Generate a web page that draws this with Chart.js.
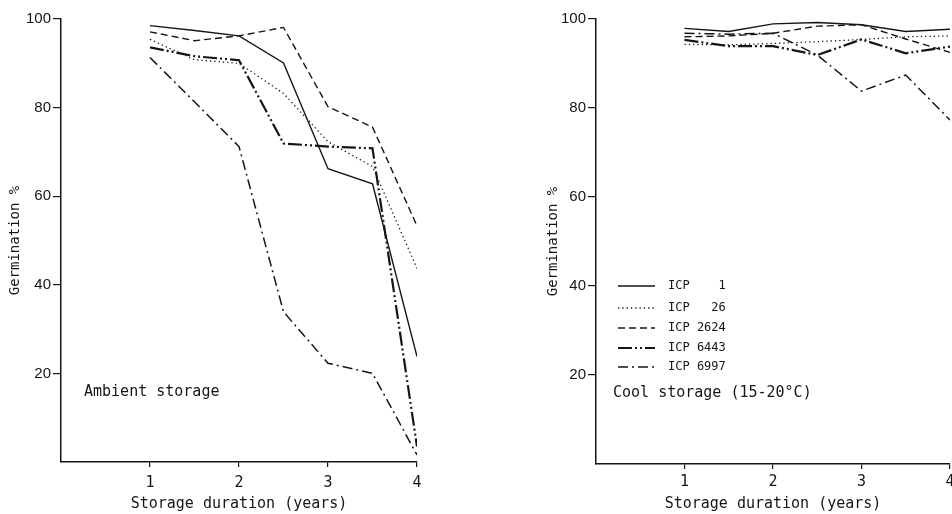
<!DOCTYPE html>
<html><head><meta charset="utf-8">
<script src="https://cdn.jsdelivr.net/npm/chart.js@4.4.0/dist/chart.umd.min.js"></script>
<style>
html,body{margin:0;padding:0;overflow:hidden;background:#fff;width:952px;height:514px;}
canvas{position:absolute;top:0;}
#c1{left:0;}
#c2{left:520px;}
</style></head><body>
<canvas id="c1" width="476" height="514"></canvas>
<canvas id="c2" width="440" height="514"></canvas>
<script>
// ---- data ----
const years = [1, 1.5, 2, 2.5, 3, 3.5, 4];
const xTickValues = [1, 2, 3, 4];
const yTickValues = [20, 40, 60, 80, 100];
const seriesNames = ['ICP    1', 'ICP   26', 'ICP 2624', 'ICP 6443', 'ICP 6997'];

const ambientICP1    = [98.5, 97.4, 96.2, 90.1, 66.2, 62.8, 23.8];
const ambientICP26   = [95.4, 90.8, 90.0, 83.2, 72.3, 66.7, 43.7];
const ambientICP2624 = [97.1, 95.1, 96.2, 98.1, 80.2, 75.6, 53.3];
const ambientICP6443 = [93.6, 91.6, 90.7, 71.9, 71.2, 70.8, 3.5];
const ambientICP6997 = [91.3, 81.3, 71.2, 33.9, 22.3, 20.0, 1.6];

const coolICP1    = [97.9, 97.2, 98.9, 99.2, 98.7, 97.2, 97.7];
const coolICP26   = [94.3, 94.2, 94.5, 94.9, 95.4, 96.0, 96.2];
const coolICP2624 = [96.0, 96.2, 96.8, 98.4, 98.7, 95.5, 92.5];
const coolICP6443 = [95.3, 93.9, 93.9, 91.9, 95.4, 92.3, 93.8];
const coolICP6997 = [96.8, 96.6, 96.8, 91.9, 83.8, 87.4, 77.3];

const ambientTitle = 'Ambient storage';
const coolTitle = 'Cool storage (15-20°C)';
const xTitle = 'Storage duration (years)';
const yTitle = 'Germination %';

// ---- styles ----
const INK = '#151515';
const MONO = "'DejaVu Sans Mono', 'Liberation Mono', monospace";
const SANS = "'Liberation Sans Narrow', 'Liberation Sans', sans-serif";
const lineStyles = [
  {dash: [], width: 1.4},
  {dash: [1.3, 3], width: 1.3},
  {dash: [7, 4], width: 1.4},
  {dash: [14, 3, 2, 3, 2, 3], width: 2.2},
  {dash: [10, 4, 2, 4], width: 1.5}
];

function makeDatasets(arrays) {
  return arrays.map((vals, i) => ({
    label: seriesNames[i],
    data: years.map((x, j) => ({x: x, y: vals[j]})),
    borderColor: INK,
    borderWidth: lineStyles[i].width,
    borderDash: lineStyles[i].dash,
    pointRadius: 0,
    tension: 0,
    fill: false
  }));
}

const notesPlugin = {
  id: 'notes',
  afterDraw(chart, args, opts) {
    const ctx = chart.ctx;
    ctx.save();
    ctx.fillStyle = INK;
    ctx.textBaseline = 'middle';
    (opts.notes || []).forEach(n => {
      ctx.font = n.font;
      ctx.fillText(n.text, n.x, n.y);
    });
    if (opts.legend) {
      const L = opts.legend;
      chart.data.datasets.forEach((ds, i) => {
        const y = L.rows[i];
        ctx.strokeStyle = INK;
        ctx.lineWidth = ds.borderWidth;
        ctx.setLineDash(ds.borderDash);
        ctx.beginPath();
        ctx.moveTo(L.x0, y);
        ctx.lineTo(L.x1, y);
        ctx.stroke();
        ctx.setLineDash([]);
        ctx.font = L.font;
        ctx.fillText(ds.label, L.tx, y);
      });
    }
    ctx.restore();
  }
};

function makeConfig(datasets, yWidth, xHeight, padRight, titlePadY, tickPadX, notes, legend) {
  return {
    type: 'line',
    data: {datasets: datasets},
    plugins: [notesPlugin],
    options: {
      responsive: false,
      animation: false,
      layout: {padding: {top: 19, right: padRight, bottom: 0, left: 0}},
      plugins: {
        legend: {display: false},
        tooltip: {enabled: false},
        notes: {notes: notes, legend: legend}
      },
      scales: {
        x: {
          type: 'linear', min: 0, max: 4,
          afterBuildTicks: s => { s.ticks = xTickValues.map(v => ({value: v})); },
          afterFit: s => { s.height = xHeight; },
          grid: {drawOnChartArea: false, drawTicks: true, tickLength: 5, color: INK, lineWidth: 1.2},
          border: {display: true, color: INK, width: 1.5},
          ticks: {padding: tickPadX, color: INK, maxRotation: 0, autoSkip: false, font: {family: MONO, size: 15}},
          title: {display: true, text: xTitle, color: INK, font: {family: MONO, size: 15}, padding: {top: 0, bottom: 1}}
        },
        y: {
          type: 'linear', min: 0, max: 100,
          afterBuildTicks: s => { s.ticks = yTickValues.map(v => ({value: v})); },
          afterFit: s => { s.width = yWidth; },
          grid: {drawOnChartArea: false, drawTicks: true, tickLength: 8, color: INK, lineWidth: 1.2},
          border: {display: true, color: INK, width: 1.5},
          ticks: {padding: 2, color: INK, font: {family: SANS, size: 15}},
          title: {display: true, text: yTitle, color: INK, font: {family: MONO, size: 14}, padding: {top: titlePadY}}
        }
      }
    }
  };
}

new Chart(document.getElementById('c1'), makeConfig(
  makeDatasets([ambientICP1, ambientICP26, ambientICP2624, ambientICP6443, ambientICP6997]),
  61, 52, 59, 7, 7,
  [{text: ambientTitle, x: 84, y: 392, font: '15px ' + MONO}],
  null
));

new Chart(document.getElementById('c2'), makeConfig(
  makeDatasets([coolICP1, coolICP26, coolICP2624, coolICP6443, coolICP6997]),
  76, 50, 10, 25, 4,
  [{text: coolTitle, x: 93, y: 393, font: '15px ' + MONO}],
  {x0: 98, x1: 135, tx: 148, rows: [286, 308, 328, 348, 367], font: '12px ' + MONO}
));
</script>
</body></html>
